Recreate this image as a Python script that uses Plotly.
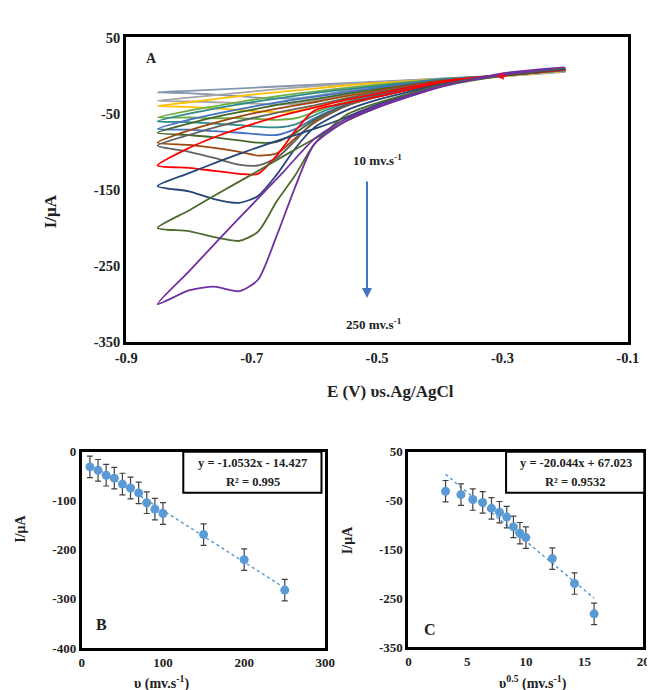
import plotly.graph_objects as go

# ---------------- Panel A data (cyclic voltammograms) ----------------
scan_rates = [10, 20, 30, 40, 50, 60, 70, 80, 90, 100, 150, 200, 250]
cv_colors = ['#8497B0', '#A5A5A5', '#FFC000', '#70AD47', '#2E8B8B', '#4472C4',
             '#43682B', '#9E480E', '#636363', '#FF0000', '#264478', '#4E6B2E', '#7030A0']

# potentials of the forward (cathodic) branch and of the return branch
E_fwd = [-0.20, -0.30, -0.40, -0.50, -0.55, -0.60, -0.63, -0.66, -0.69, -0.72, -0.76, -0.80, -0.85]
E_rev = [-0.85, -0.80, -0.75, -0.70, -0.65, -0.60, -0.55, -0.50, -0.40, -0.30, -0.20]

I_fwd_10 = [5, -1, -6, -14, -20, -27, -30, -30, -29, -27, -25, -23, -22]
I_rev_10 = [-22, -20, -18, -16, -14, -12, -10, -8, -4, 0, 5]
I_fwd_20 = [6, -1, -8, -18, -25, -33, -37, -38, -37, -36, -35, -34, -33]
I_rev_20 = [-33, -29, -25, -21, -17, -14, -11, -9, -4, 0, 6]
I_fwd_30 = [6, -1, -9, -21, -30, -41, -47, -48, -47, -45, -43, -41, -40]
I_rev_30 = [-40, -35, -30, -25, -21, -17, -13, -10, -5, 0, 6]
I_fwd_40 = [7, 0, -10, -24, -34, -48, -56, -58, -57, -56, -56, -55, -55]
I_rev_40 = [-55, -46, -39, -32, -26, -21, -16, -12, -5, 0, 7]
I_fwd_50 = [7, 0, -10, -25, -36, -52, -64, -68, -67, -65, -63, -61, -60]
I_rev_50 = [-60, -50, -42, -35, -29, -23, -18, -14, -5, 0, 7]
I_fwd_60 = [7, 0, -10, -26, -38, -56, -70, -78, -77, -75, -73, -71, -70]
I_rev_60 = [-70, -58, -49, -41, -34, -28, -22, -16, -6, 0, 7]
I_fwd_70 = [8, 0, -11, -27, -39, -58, -75, -87, -88, -85, -81, -78, -75]
I_rev_70 = [-75, -63, -53, -45, -37, -31, -24, -18, -7, 0, 8]
I_fwd_80 = [8, 0, -11, -28, -40, -62, -82, -102, -105, -100, -95, -91, -88]
I_rev_80 = [-88, -72, -60, -50, -42, -35, -27, -20, -7, 0, 8]
I_fwd_90 = [8, 0, -11, -28, -40, -60, -85, -108, -118, -117, -108, -100, -92]
I_rev_90 = [-92, -78, -66, -56, -47, -39, -30, -22, -8, 0, 8]
I_fwd_100 = [8, 0, -10, -28, -36, -46, -72, -105, -129, -129, -125, -121, -118]
I_rev_100 = [-118, -95, -78, -64, -52, -42, -32, -24, -8, 1, 8]
I_fwd_150 = [9, 1, -12, -32, -46, -68, -95, -130, -158, -167, -162, -152, -145]
I_rev_150 = [-145, -128, -112, -97, -83, -70, -55, -38, -13, 0, 9]
I_fwd_200 = [10, 2, -13, -36, -52, -90, -130, -165, -205, -217, -212, -204, -200]
I_rev_200 = [-200, -177, -153, -130, -106, -83, -60, -42, -15, 0, 10]
I_fwd_250 = [11, 3, -15, -42, -60, -90, -145, -210, -268, -283, -277, -282, -300]
I_rev_250 = [-300, -257, -213, -170, -127, -83, -57, -40, -14, 1, 11]

I_fwd_all = [I_fwd_10, I_fwd_20, I_fwd_30, I_fwd_40, I_fwd_50, I_fwd_60, I_fwd_70,
             I_fwd_80, I_fwd_90, I_fwd_100, I_fwd_150, I_fwd_200, I_fwd_250]
I_rev_all = [I_rev_10, I_rev_20, I_rev_30, I_rev_40, I_rev_50, I_rev_60, I_rev_70,
             I_rev_80, I_rev_90, I_rev_100, I_rev_150, I_rev_200, I_rev_250]

# ---------------- Panels B and C data ----------------
v_rates = [10, 20, 30, 40, 50, 60, 70, 80, 90, 100, 150, 200, 250]
sqrt_v = [3.16, 4.47, 5.48, 6.32, 7.07, 7.75, 8.37, 8.94, 9.49, 10.0, 12.25, 14.14, 15.81]
peak_I = [-31, -38, -48, -54, -66, -74, -84, -104, -117, -126, -169, -220, -282]
peak_err = [22, 22, 22, 22, 22, 22, 22, 22, 22, 22, 22, 22, 22]
fit_B = [-1.0532, -14.427]
fit_C = [-20.044, 67.023]

xticks_A = [-0.9, -0.7, -0.5, -0.3, -0.1]
yticks_A = [50, -50, -150, -250, -350]
xticks_B = [0, 100, 200, 300]
yticks_B = [0, -100, -200, -300, -400]
xticks_C = [0, 5, 10, 15, 20]
yticks_C = [50, -50, -150, -250, -350]

SERIF = "Liberation Serif, Times New Roman, serif"
W, H = 655, 690

def px(x):
    return x / W

def py(y):
    return 1 - y / H

def lab(vals):
    return [str(v) for v in vals]

fig = go.Figure()

for i, rate in enumerate(scan_rates):
    xs = E_fwd + E_rev[1:]
    ys = I_fwd_all[i] + I_rev_all[i][1:]
    fig.add_trace(go.Scatter(x=xs, y=ys, mode='lines', xaxis='x', yaxis='y',
                             line=dict(color=cv_colors[i], width=1.8, shape='spline', smoothing=0.7),
                             showlegend=False, hoverinfo='skip', name=f'{rate} mV/s'))

marker_color = '#5B9BD5'
# Panel B
fig.add_trace(go.Scatter(x=[v_rates[0], v_rates[-1]],
                         y=[fit_B[0] * v_rates[0] + fit_B[1], fit_B[0] * v_rates[-1] + fit_B[1]],
                         mode='lines', xaxis='x2', yaxis='y2',
                         line=dict(color=marker_color, width=1.5, dash='dot'), showlegend=False))
fig.add_trace(go.Scatter(x=v_rates, y=peak_I, mode='markers', xaxis='x2', yaxis='y2',
                         marker=dict(color=marker_color, size=9, symbol='circle'),
                         error_y=dict(type='data', array=peak_err, color='#404040', thickness=1.2, width=3),
                         showlegend=False))
# Panel C
fig.add_trace(go.Scatter(x=[sqrt_v[0], sqrt_v[-1]],
                         y=[fit_C[0] * sqrt_v[0] + fit_C[1], fit_C[0] * sqrt_v[-1] + fit_C[1]],
                         mode='lines', xaxis='x3', yaxis='y3',
                         line=dict(color=marker_color, width=1.5, dash='dot'), showlegend=False))
fig.add_trace(go.Scatter(x=sqrt_v, y=peak_I, mode='markers', xaxis='x3', yaxis='y3',
                         marker=dict(color=marker_color, size=9, symbol='circle'),
                         error_y=dict(type='data', array=peak_err, color='#404040', thickness=1.2, width=3),
                         showlegend=False))

tickfont = dict(family=SERIF, size=14.5, color='#222', weight='bold')
tickfont_s = dict(family=SERIF, size=13, color='#222', weight='bold')
axis_common = dict(showline=True, mirror=True, linecolor='black', linewidth=3,
                   showgrid=False, zeroline=False, ticks='', fixedrange=True)

fig.update_layout(
    width=W, height=H, margin=dict(l=0, r=0, t=0, b=0),
    paper_bgcolor='white', plot_bgcolor='white', showlegend=False,
    xaxis=dict(domain=[px(111), px(630)], anchor='y', range=[-0.9, -0.1],
               tickvals=xticks_A, ticktext=lab(xticks_A), tickfont=tickfont, **axis_common),
    yaxis=dict(domain=[py(334), py(22)], anchor='x', range=[-350, 50],
               tickvals=yticks_A, ticktext=lab(yticks_A), tickfont=tickfont, **axis_common),
    xaxis2=dict(domain=[px(65), px(317)], anchor='y2', range=[0, 300],
                tickvals=xticks_B, ticktext=lab(xticks_B), tickfont=tickfont_s, **axis_common),
    yaxis2=dict(domain=[py(647), py(446)], anchor='x2', range=[-400, 0],
                tickvals=yticks_B, ticktext=lab(yticks_B), tickfont=tickfont_s, **axis_common),
    xaxis3=dict(domain=[px(403), px(646)], anchor='y3', range=[0, 20],
                tickvals=xticks_C, ticktext=lab(xticks_C), tickfont=tickfont_s, **axis_common),
    yaxis3=dict(domain=[py(646), py(446)], anchor='x3', range=[-350, 50],
                tickvals=yticks_C, ticktext=lab(yticks_C), tickfont=tickfont_s, **axis_common),
)

ann = []
def txt(x, y, s, size=13, xref='paper', yref='paper', xanchor='center', yanchor='middle', angle=0):
    ann.append(dict(x=x, y=y, xref=xref, yref=yref, text=s, showarrow=False,
                    xanchor=xanchor, yanchor=yanchor, textangle=angle,
                    font=dict(family=SERIF, size=size, color='#222', weight='bold')))

# Panel A texts
txt(px(384), py(384), 'E (V) υs.Ag/AgCl', size=17)
txt(px(32), py(200), 'I/μA', size=17, angle=-90)
txt(px(137), py(43), 'A', size=14)
txt(-0.5, -111, '10 mv.s<sup>-1</sup>', size=13, xref='x', yref='y')
txt(-0.505, -326, '250 mv.s<sup>-1</sup>', size=13, xref='x', yref='y')
ann.append(dict(x=-0.516, y=-292, ax=-0.516, ay=-137, xref='x', yref='y', axref='x', ayref='y',
                showarrow=True, arrowhead=2, arrowsize=1, arrowwidth=2, arrowcolor='#4472C4', text=''))
ann.append(dict(x=-0.31, y=-1, ax=-0.29, ay=0, xref='x', yref='y', axref='x', ayref='y',
                showarrow=True, arrowhead=2, arrowsize=1, arrowwidth=1.5, arrowcolor='#E0102A', text=''))

# Panel B texts
txt(px(147), py(682), 'υ (mv.s<sup>-1</sup>)', size=14)
txt(px(2), py(525), 'I/μA', size=14, angle=-90)
txt(px(85), py(623), 'B', size=16)
txt(px(242), py(458), 'y = -1.0532x - 14.427', size=12.5)
txt(px(242), py(477), 'R² = 0.995', size=12.5)

# Panel C texts
txt(px(532), py(682), 'υ<sup>0.5</sup> (mv.s<sup>-1</sup>)', size=14)
txt(px(340), py(537), 'I/μA', size=14, angle=-90)
txt(px(425), py(628), 'C', size=16)
txt(px(576), py(458), 'y = -20.044x + 67.023', size=12.5)
txt(px(576), py(477), 'R² = 0.9532', size=12.5)

fig.update_layout(annotations=ann)

fig.add_shape(type='rect', xref='paper', yref='paper', x0=px(170), x1=px(313), y0=py(488), y1=py(446),
              line=dict(color='black', width=2), fillcolor='white', layer='above')
fig.add_shape(type='rect', xref='paper', yref='paper', x0=px(504), x1=px(647), y0=py(488), y1=py(446),
              line=dict(color='black', width=2), fillcolor='white', layer='above')

fig.write_html("out.html")
